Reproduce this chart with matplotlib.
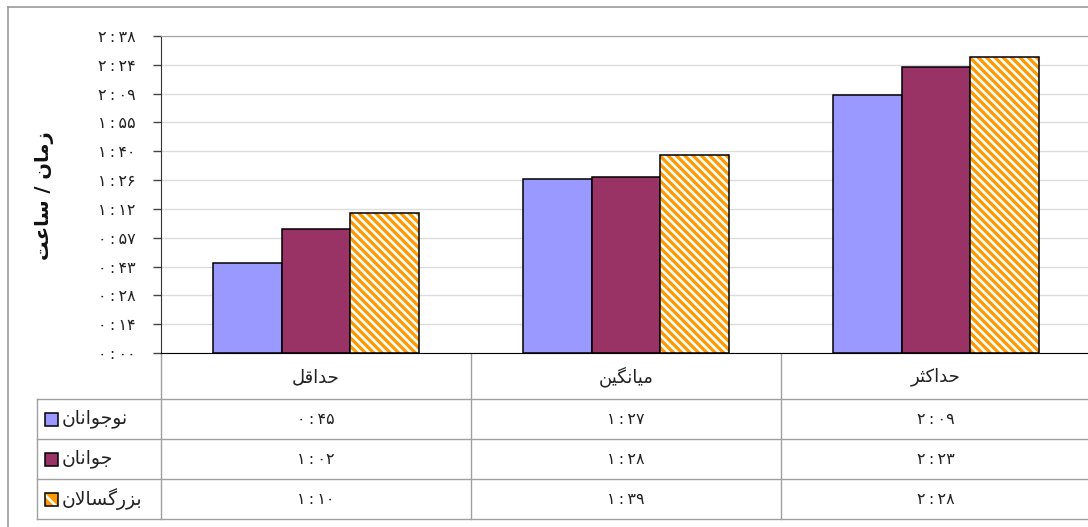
import matplotlib
matplotlib.use("Agg")
import matplotlib.pyplot as plt
from matplotlib.patches import Rectangle
from matplotlib.transforms import blended_transform_factory

plt.rcParams["font.family"] = ["DejaVu Sans"]
plt.rcParams["hatch.linewidth"] = 1.9

# Chart data (race times as h:mm)
CATEGORIES = ["حداقل", "میانگین", "حداکثر"]
SERIES = ["نوجوانان", "جوانان", "بزرگسالان"]
teen_times = ["0:45", "1:27", "2:09"]
young_times = ["1:02", "1:28", "2:23"]
adult_times = ["1:10", "1:39", "2:28"]
COLORS = ["#9999FF", "#993366", "#FF9900"]
TITLE = "زمان مسابقه"
YLABEL = "زمان / ساعت"
Y_STEP = 14.4      # minutes (0.01 day, Excel major unit)
Y_TICK_COUNT = 12

FA_DIGITS = str.maketrans("0123456789", "۰۱۲۳۴۵۶۷۸۹")
TXT = "#222222"

# isolated, final, initial, medial (None: letter does not join the next one)
FORMS = {
    "ا": ("\ufe8d", "\ufe8e", None, None),
    "ب": ("\ufe8f", "\ufe90", "\ufe91", "\ufe92"),
    "ت": ("\ufe95", "\ufe96", "\ufe97", "\ufe98"),
    "ث": ("\ufe99", "\ufe9a", "\ufe9b", "\ufe9c"),
    "ج": ("\ufe9d", "\ufe9e", "\ufe9f", "\ufea0"),
    "ح": ("\ufea1", "\ufea2", "\ufea3", "\ufea4"),
    "د": ("\ufea9", "\ufeaa", None, None),
    "ر": ("\ufead", "\ufeae", None, None),
    "ز": ("\ufeaf", "\ufeb0", None, None),
    "س": ("\ufeb1", "\ufeb2", "\ufeb3", "\ufeb4"),
    "ع": ("\ufec9", "\ufeca", "\ufecb", "\ufecc"),
    "ق": ("\ufed5", "\ufed6", "\ufed7", "\ufed8"),
    "ل": ("\ufedd", "\ufede", "\ufedf", "\ufee0"),
    "م": ("\ufee1", "\ufee2", "\ufee3", "\ufee4"),
    "ن": ("\ufee5", "\ufee6", "\ufee7", "\ufee8"),
    "ه": ("\ufee9", "\ufeea", "\ufeeb", "\ufeec"),
    "و": ("\ufeed", "\ufeee", None, None),
    "ک": ("\ufb8e", "\ufb8f", "\ufb90", "\ufb91"),
    "گ": ("\ufb92", "\ufb93", "\ufb94", "\ufb95"),
    "ی": ("\ufbfc", "\ufbfd", "\ufbfe", "\ufbff"),
}
LAM_ALEF = ("\ufefb", "\ufefc")


def shape(text):
    """Minimal Persian shaping + visual (RTL) ordering for matplotlib."""
    letters, i = [], 0
    while i < len(text):
        if text[i] == "ل" and text[i + 1:i + 2] == "ا":
            letters.append("لا")
            i += 2
        else:
            letters.append(text[i])
            i += 1

    def joins_next(c):
        return c in FORMS and FORMS[c][2] is not None

    out = []
    for k, c in enumerate(letters):
        prev = letters[k - 1] if k > 0 else None
        nxt = letters[k + 1] if k + 1 < len(letters) else None
        jp = prev is not None and joins_next(prev)
        if c == "لا":
            out.append(LAM_ALEF[1] if jp else LAM_ALEF[0])
            continue
        if c not in FORMS:
            out.append(c)
            continue
        jn = joins_next(c) and nxt is not None and (nxt in FORMS or nxt == "لا")
        iso, fin, ini, med = FORMS[c]
        out.append(med if jp and jn else fin if jp else ini if jn else iso)
    return "".join(reversed(out))


def fa_time(t):
    # Persian digits, a little air around the colon like the Excel rendering
    return t.translate(FA_DIGITS).replace(":", "\u2009:\u2009")


def to_minutes(t):
    h, m = t.split(":")
    return int(h) * 60 + int(m)


def fmt_minutes(m):
    h = int(m // 60)
    mm = int(m - h * 60 + 1e-9)
    return fa_time(f"{h}:{mm:02d}")


def hatched(target, draw, color, hatch):
    """Orange fill with white stripes, black outline (hatch colour != edge colour)."""
    draw(target, facecolor=color, edgecolor="white", hatch=hatch, linewidth=0)
    draw(target, fill=False, edgecolor="black", linewidth=1.1)


W, H = 1088, 527
fig = plt.figure(figsize=(W / 100, H / 100), dpi=100)

# pixel-space overlay for the frame and the data table
ov = fig.add_axes([0, 0, 1, 1], zorder=0)
ov.set_xlim(0, W)
ov.set_ylim(H, 0)
ov.axis("off")

plot_left, plot_top, plot_bottom, col_w = 161, 36, 353, 310
ax = fig.add_axes([plot_left / W, 1 - plot_bottom / H, 3 * col_w / W, (plot_bottom - plot_top) / H], zorder=1)

all_times = [teen_times, young_times, adult_times]
n = len(SERIES)
bw = 1 / 4.5
for j, (times, color) in enumerate(zip(all_times, COLORS)):
    xs = [i + 0.5 + (j - (n - 1) / 2) * bw for i in range(len(CATEGORIES))]
    vals = [to_minutes(t) for t in times]
    if j == 2:
        ax.bar(xs, vals, bw, color=color, edgecolor="white", hatch="\\\\\\\\", linewidth=0, zorder=2)
        ax.bar(xs, vals, bw, fill=False, edgecolor="black", linewidth=1.1, zorder=3)
    else:
        ax.bar(xs, vals, bw, color=color, edgecolor="black", linewidth=1.1, zorder=2)

yticks = [k * Y_STEP for k in range(Y_TICK_COUNT)]
ax.set_xlim(0, len(CATEGORIES))
ax.set_ylim(0, yticks[-1])
ax.set_yticks(yticks)
ax.set_yticklabels([fmt_minutes(v) for v in yticks])
ax.set_xticks([])
ax.yaxis.grid(True, color="#DCDCDC", linewidth=1)
ax.set_axisbelow(True)
ax.tick_params(axis="y", direction="out", length=6, width=1, color="#444444", pad=12,
               labelsize=11.5, labelcolor=TXT)
ax.spines["right"].set_visible(False)
ax.spines["top"].set_color("#A0A0A0")
ax.spines["left"].set_color("#333333")
ax.spines["bottom"].set_color("black")

ov.text(593, 56, shape(TITLE), ha="center", va="center", fontsize=13, color=TXT)
fig.text(45 / W, 1 - 196 / H, shape(YLABEL), rotation=90, ha="center", va="center",
         fontsize=14, fontweight="bold", color="#111111")

# outer chart frame
line_c = "#A0A0A0"
ov.plot([8, 8], [7, H], color="#999999", lw=1.2)
ov.plot([8, W], [7, 7], color="#999999", lw=1.2)

# data table
bl = blended_transform_factory(ax.transData, ov.transData)
row_h = 40
header_bottom = 399
rows_y = [header_bottom + k * row_h for k in range(n + 1)]
for y in rows_y:
    ov.plot([37, W], [y, y], color=line_c, lw=1)
for xb in range(len(CATEGORIES) + 1):
    ov.plot([xb, xb], [plot_bottom, rows_y[-1]], color=line_c, lw=1, transform=bl)
ov.plot([37, 37], [rows_y[0], rows_y[-1]], color=line_c, lw=1)

for i, cat in enumerate(CATEGORIES):
    ov.text(i + 0.5, 377, shape(cat), ha="center", va="center", fontsize=13,
            color=TXT, transform=bl)

for j, (name, times, color) in enumerate(zip(SERIES, all_times, COLORS)):
    yc = rows_y[j] + row_h / 2
    box = (45, yc - 6.5)
    if j == 2:
        ov.add_patch(Rectangle(box, 13, 13, facecolor=color, edgecolor="white", lw=0, hatch="\\\\"))
        ov.add_patch(Rectangle(box, 13, 13, fill=False, edgecolor="black", lw=1.1))
    else:
        ov.add_patch(Rectangle(box, 13, 13, facecolor=color, edgecolor="black", lw=1.1))
    ov.text(62, yc, shape(name), ha="left", va="center", fontsize=13.5, color=TXT)
    for i, t in enumerate(times):
        ov.text(i + 0.5, yc, fa_time(t), ha="center", va="center",
                fontsize=11.5, color=TXT, transform=bl)

fig.savefig("out.png", dpi=100)
